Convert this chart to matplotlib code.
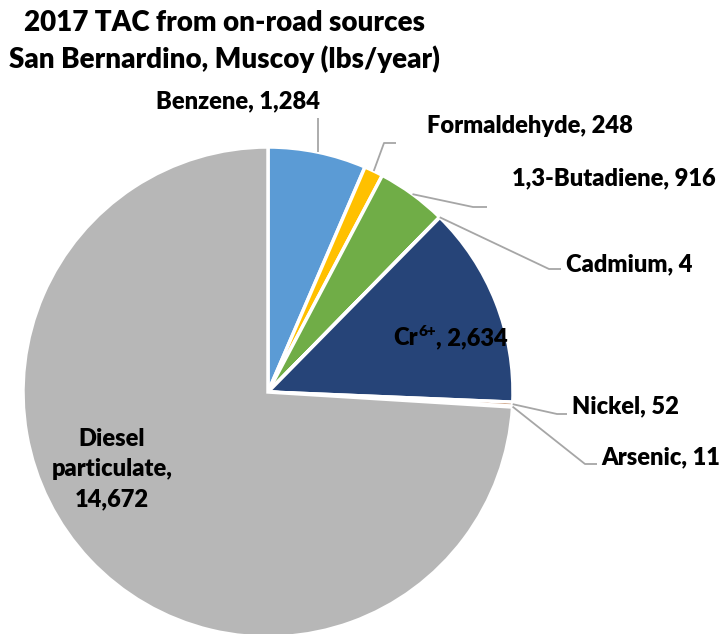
import numpy as np
import matplotlib
matplotlib.use("Agg")
import matplotlib.pyplot as plt

plt.rcParams['font.family'] = ['Lato', 'DejaVu Sans']

# Data (lbs/year)
pollutants = ['Benzene', 'Formaldehyde', '1,3-Butadiene', 'Cadmium',
              'Cr6+', 'Nickel', 'Arsenic', 'Diesel particulate']
values = [1284, 248, 916, 4, 2634, 52, 11, 14672]
label_text = ['Benzene, 1,284', 'Formaldehyde, 248', '1,3-Butadiene, 916',
              'Cadmium, 4', 'Cr6+, 2,634', 'Nickel, 52', 'Arsenic, 11',
              'Diesel\nparticulate,\n14,672']
colors = ['#5B9BD5', '#FFC000', '#70AD47', '#A5A5A5',
          '#264478', '#9E480E', '#636363', '#B7B7B7']

W, H = 726, 634
fig = plt.figure(figsize=(W / 100, H / 100), dpi=100)
ax = fig.add_axes([0, 0, 1, 1])

cx, cy, R = 268, 392, 245
# y axis is inverted, so start at -90 and go "counterclockwise" in data space
wedges, _ = ax.pie(values, colors=colors, startangle=-90, counterclock=True,
                   center=(cx, cy), radius=R,
                   wedgeprops=dict(edgecolor='white', linewidth=2.5))
ax.set_xlim(0, W)
ax.set_ylim(H, 0)
ax.set_aspect('equal')
ax.axis('off')


def edge_point(i):
    w = wedges[i]
    ang = np.deg2rad((w.theta1 + w.theta2) / 2)
    return cx + R * np.cos(ang), cy + R * np.sin(ang)


fw = 'heavy'
fs = 17
kw = dict(fontsize=fs, fontweight=fw, color='black')
lc = '#A6A6A6'

# title
ax.text(224, 23, '2017 TAC from on-road sources', ha='center', va='center',
        fontsize=20, fontweight=fw)
ax.text(224, 59, 'San Bernardino, Muscoy (lbs/year)', ha='center', va='center',
        fontsize=20, fontweight=fw)

# outside labels: label position and leader line points after the wedge edge
outside = {
    0: ((238, 101, 'center'), [(319, 118)]),
    1: ((427, 126, 'left'), [(384, 143), (396, 143)]),
    2: ((512, 178, 'left'), [(473, 207), (487, 207)]),
    3: ((566, 264, 'left'), [(549, 269), (561, 269)]),
    5: ((572, 406, 'left'), [(557, 414), (567, 414)]),
    6: ((601, 457, 'left'), [(585, 464), (597, 464)]),
}
for i, ((tx, ty, ha), pts) in outside.items():
    x0, y0 = edge_point(i)
    if i == 0:
        pts = [(x0, pts[0][1])]
    xs = [x0] + [p[0] for p in pts]
    ys = [y0] + [p[1] for p in pts]
    ax.plot(xs, ys, color=lc, lw=1.3, solid_capstyle='butt')
    ax.text(tx, ty, label_text[i], ha=ha, va='center', **kw)

# Cr6+ label with superscript, built from pieces
renderer = fig.canvas.get_renderer()
inv = ax.transData.inverted()
t1 = ax.text(393, 345, 'Cr', ha='left', va='baseline', **kw)
x1 = inv.transform(t1.get_window_extent(renderer).p1)[0]
t2 = ax.text(x1 + 1, 336, '6+', ha='left', va='baseline',
             fontsize=11, fontweight=fw)
x2 = inv.transform(t2.get_window_extent(renderer).p1)[0]
ax.text(x2, 345, ', ' + label_text[4].split(', ')[1], ha='left',
        va='baseline', **kw)

ax.text(112, 469, label_text[7], ha='center', va='center',
        linespacing=1.45, **kw)

fig.savefig('out.png', dpi=100)
